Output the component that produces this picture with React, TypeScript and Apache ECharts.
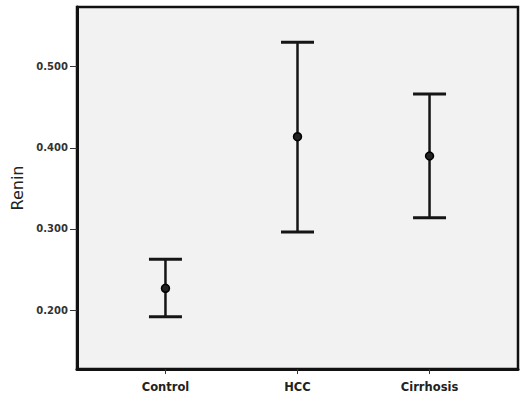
import React, { useEffect, useRef } from "react";
import * as echarts from "echarts";

const categories = ["Control", "HCC", "Cirrhosis"];
const means = [0.2268, 0.4137, 0.3899];
const lower = [0.1917, 0.2962, 0.3138];
const upper = [0.2625, 0.5301, 0.4663];
const yTicks = [0.2, 0.3, 0.4, 0.5];
const xPositions = [1, 2, 3];

export default function App() {
  const ref = useRef<HTMLDivElement>(null);
  useEffect(() => {
    if (!ref.current) return;
    const chart = echarts.init(ref.current, null, { renderer: "svg" });
    const data = categories.map((c, i) => [xPositions[i], lower[i], upper[i], means[i]]);
    chart.setOption({
      animation: false,
      backgroundColor: "#ffffff",
      grid: {
        left: 77,
        right: 3,
        top: 7,
        bottom: 31,
        show: true,
        backgroundColor: "#f2f2f2",
        borderColor: "#111",
        borderWidth: 2.5,
      },
      xAxis: {
        type: "value",
        min: 0.33,
        max: 3.67,
        splitLine: { show: false },
        axisLine: { show: true, onZero: false, lineStyle: { color: "#111", width: 3 } },
        axisTick: {
          show: true,
          customValues: xPositions,
          length: 5,
          lineStyle: { color: "#333", width: 1 },
        },
        axisLabel: {
          customValues: xPositions,
          formatter: (v: number) => categories[Math.round(v) - 1] ?? "",
          fontFamily: "DejaVu Sans",
          fontWeight: "bold",
          fontSize: 11.5,
          color: "#222",
          margin: 12,
        },
      },
      yAxis: {
        type: "value",
        min: 0.1273,
        max: 0.5736,
        name: "Renin",
        nameLocation: "middle",
        nameGap: 51,
        nameTextStyle: { fontFamily: "DejaVu Sans", fontSize: 16, color: "#222" },
        splitLine: { show: false },
        axisLine: { show: true, onZero: false, lineStyle: { color: "#111", width: 3 } },
        axisTick: {
          show: true,
          customValues: yTicks,
          length: 7,
          lineStyle: { color: "#333", width: 1 },
        },
        axisLabel: {
          customValues: yTicks,
          formatter: (v: number) => v.toFixed(3),
          fontFamily: "DejaVu Sans",
          fontWeight: "bold",
          fontSize: 10,
          color: "#333",
          margin: 9,
        },
      },
      series: [
        {
          type: "custom",
          data,
          encode: { x: 0, y: [1, 2, 3] },
          renderItem: (params: any, api: any) => {
            const x = api.value(0);
            const lo = api.coord([x, api.value(1)]);
            const hi = api.coord([x, api.value(2)]);
            const m = api.coord([x, api.value(3)]);
            const half = 16.5;
            const stroke = "#151515";
            return {
              type: "group",
              children: [
                { type: "line", shape: { x1: hi[0], y1: hi[1], x2: lo[0], y2: lo[1] }, style: { stroke, lineWidth: 2.5 } },
                { type: "line", shape: { x1: hi[0] - half, y1: hi[1], x2: hi[0] + half, y2: hi[1] }, style: { stroke, lineWidth: 3 } },
                { type: "line", shape: { x1: lo[0] - half, y1: lo[1], x2: lo[0] + half, y2: lo[1] }, style: { stroke, lineWidth: 3 } },
                { type: "circle", shape: { cx: m[0], cy: m[1], r: 4 }, style: { fill: "#222", stroke: "#000", lineWidth: 1.5 } },
              ],
            };
          },
        },
      ],
    });
    return () => chart.dispose();
  }, []);
  return <div ref={ref} style={{ position: "fixed", left: 0, top: 0, width: 521, height: 400 }} />;
}
